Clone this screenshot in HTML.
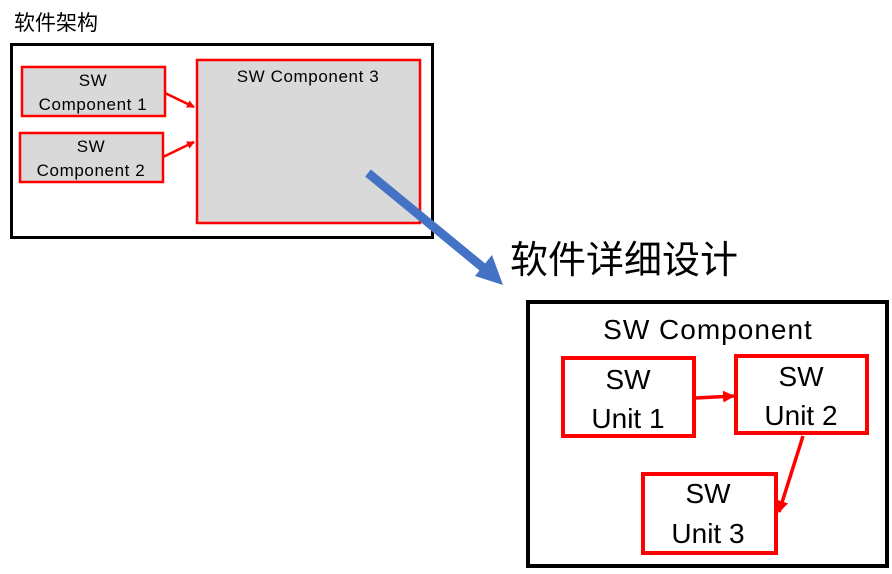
<!DOCTYPE html>
<html><head><meta charset="utf-8"><style>
html,body{margin:0;padding:0;background:#fff;width:892px;height:574px;overflow:hidden}
text{font-family:"Liberation Sans","Noto Sans CJK SC",sans-serif;fill:#000}
</style></head><body>
<svg width="892" height="574" viewBox="0 0 892 574" xmlns="http://www.w3.org/2000/svg">
<defs>
<marker id="r" markerWidth="8" markerHeight="8" refX="7" refY="4" orient="auto" markerUnits="userSpaceOnUse"><path d="M0,0 L8,4 L0,8 z" fill="#f00"/></marker>
<marker id="r2" markerWidth="12" markerHeight="12" refX="11" refY="6" orient="auto" markerUnits="userSpaceOnUse"><path d="M0,0 L12,6 L0,12 z" fill="#f00"/></marker>
</defs>
<text x="14" y="30" font-size="21">软件架构</text>
<rect x="11.5" y="44.5" width="421" height="193" fill="#fff" stroke="#000" stroke-width="3"/>
<rect x="22" y="67" width="143" height="49" fill="#d9d9d9" stroke="#f00" stroke-width="2.5"/>
<text x="93" y="86" font-size="17" text-anchor="middle" letter-spacing="0.6">SW</text>
<text x="93" y="110" font-size="17" text-anchor="middle" letter-spacing="0.6">Component 1</text>
<rect x="20" y="133" width="143" height="49" fill="#d9d9d9" stroke="#f00" stroke-width="2.5"/>
<text x="91" y="152" font-size="17" text-anchor="middle" letter-spacing="0.6">SW</text>
<text x="91" y="176" font-size="17" text-anchor="middle" letter-spacing="0.6">Component 2</text>
<rect x="197" y="60" width="223" height="163" fill="#d9d9d9" stroke="#f00" stroke-width="2.5"/>
<text x="308" y="82" font-size="17" text-anchor="middle" letter-spacing="0.6">SW Component 3</text>
<line x1="165" y1="93" x2="194" y2="107" stroke="#f00" stroke-width="2.5" marker-end="url(#r)"/>
<line x1="163" y1="157" x2="194" y2="142" stroke="#f00" stroke-width="2.5" marker-end="url(#r)"/>
<line x1="368" y1="173" x2="486" y2="270" stroke="#4472c4" stroke-width="9"/>
<path d="M503,285 L475,276 L492,255 z" fill="#4472c4"/>
<text x="510" y="273" font-size="38">软件详细设计</text>
<rect x="528" y="302" width="359" height="264" fill="#fff" stroke="#000" stroke-width="4"/>
<text x="708" y="339" font-size="28" text-anchor="middle" letter-spacing="1">SW Component</text>
<rect x="563" y="358" width="131" height="78" fill="#fff" stroke="#f00" stroke-width="4"/>
<text x="628" y="389" font-size="28" text-anchor="middle">SW</text>
<text x="628" y="428" font-size="28" text-anchor="middle">Unit 1</text>
<rect x="736" y="356" width="131" height="77" fill="#fff" stroke="#f00" stroke-width="4"/>
<text x="801" y="386" font-size="28" text-anchor="middle">SW</text>
<text x="801" y="425" font-size="28" text-anchor="middle">Unit 2</text>
<rect x="643" y="474" width="133" height="79" fill="#fff" stroke="#f00" stroke-width="4"/>
<text x="708" y="503" font-size="28" text-anchor="middle">SW</text>
<text x="708" y="543" font-size="28" text-anchor="middle">Unit 3</text>
<line x1="696" y1="398" x2="734" y2="396" stroke="#f00" stroke-width="3.5" marker-end="url(#r2)"/>
<line x1="803" y1="436" x2="779" y2="512" stroke="#f00" stroke-width="3.5" marker-end="url(#r2)"/>
</svg>
</body></html>
